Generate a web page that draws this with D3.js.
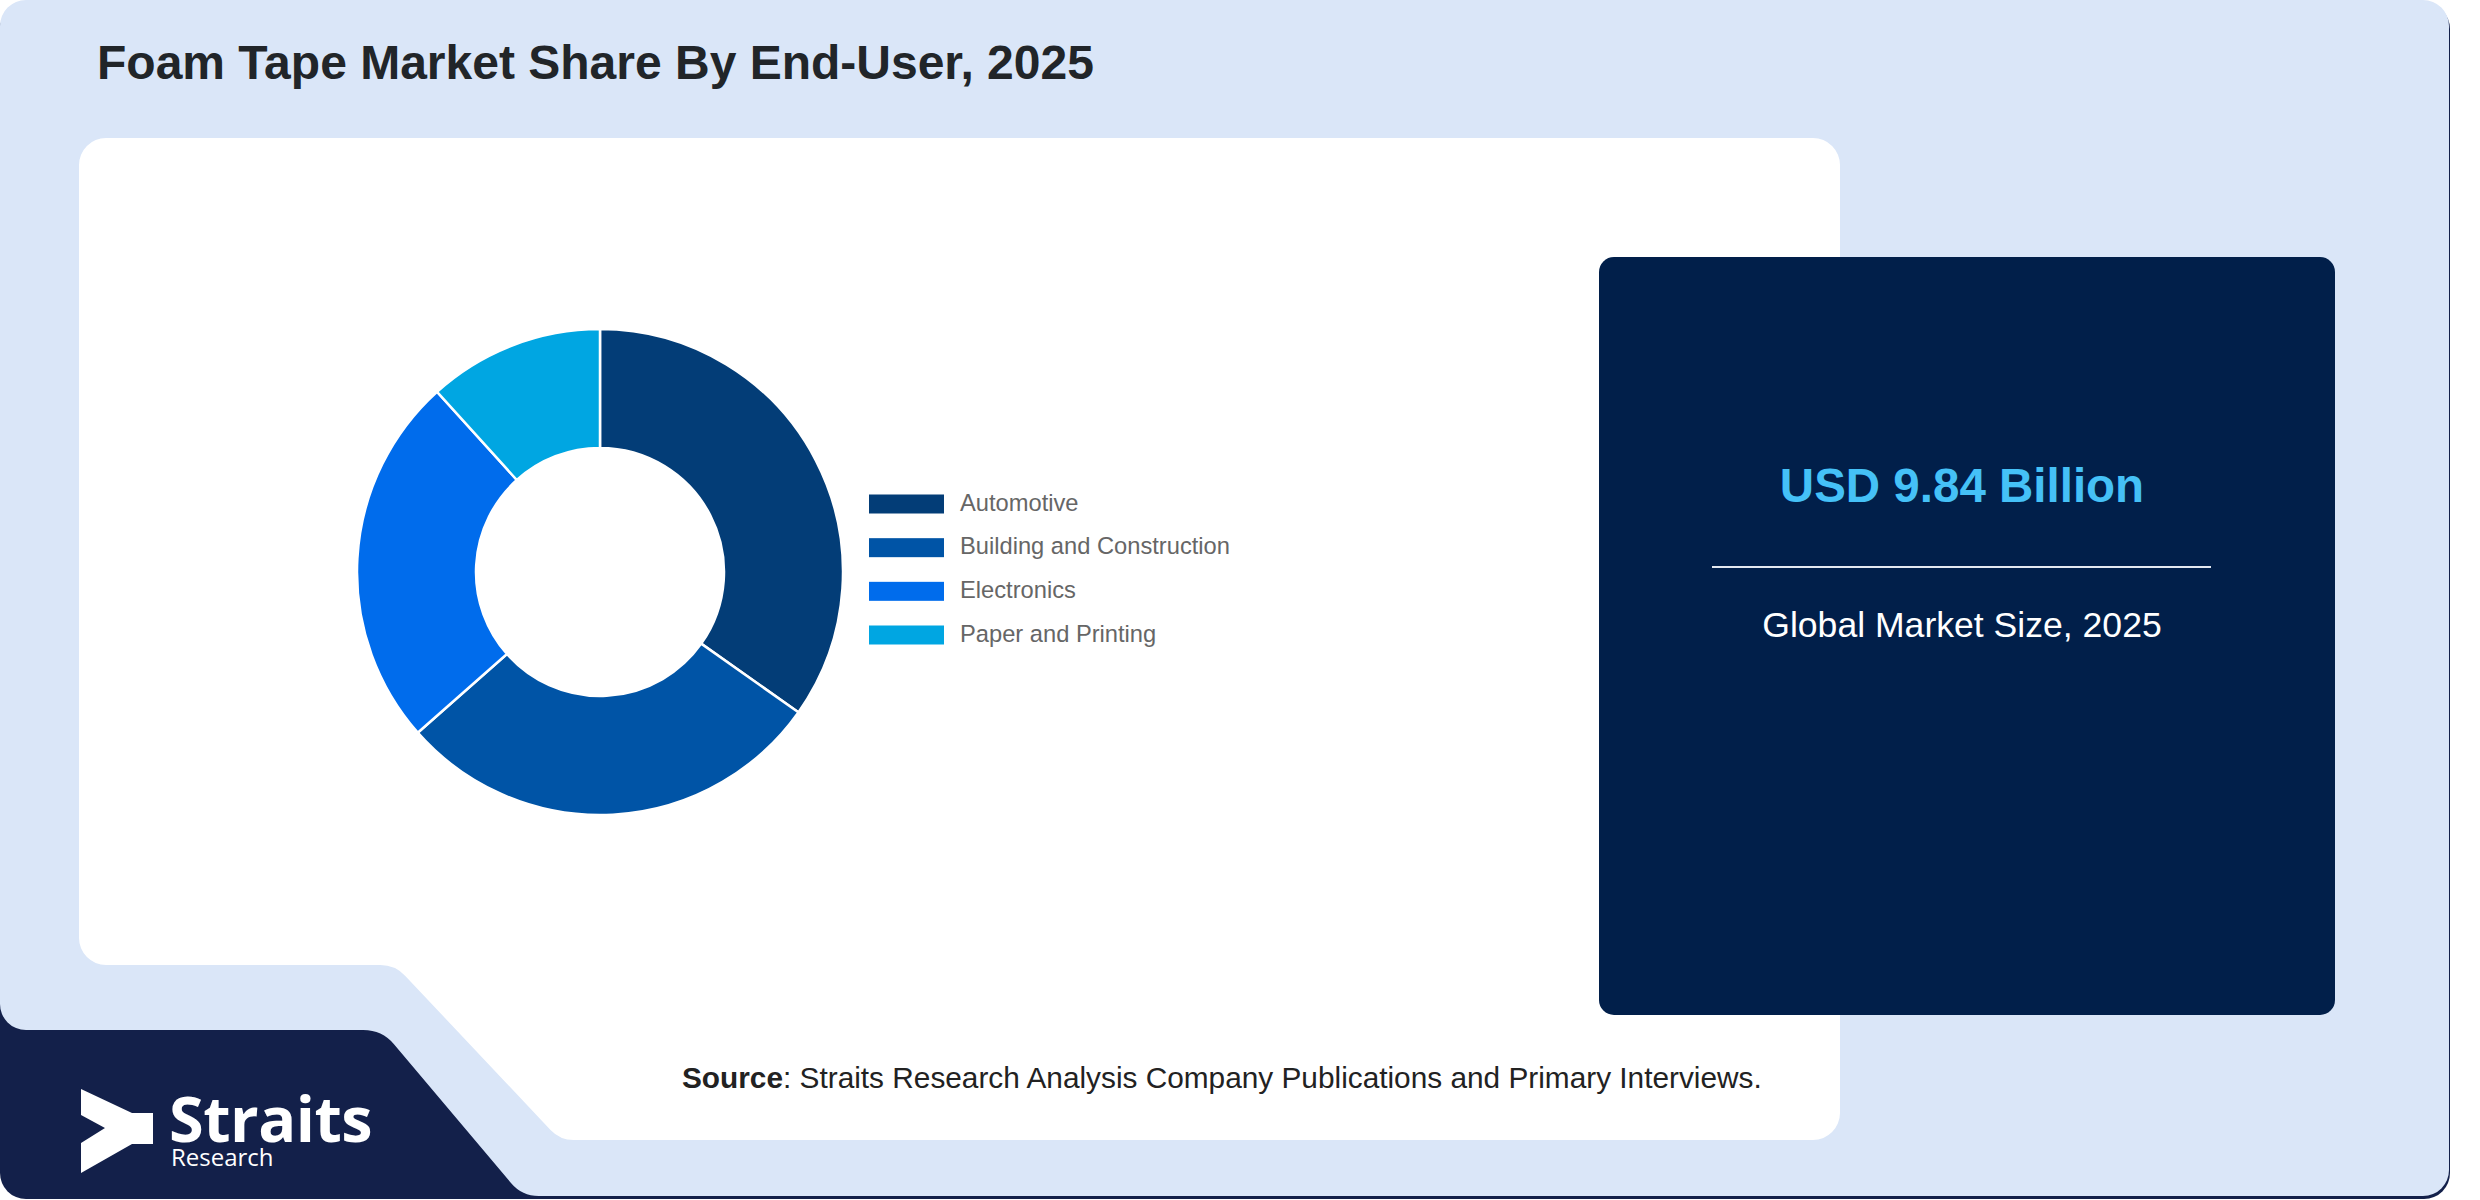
<!DOCTYPE html>
<html>
<head>
<meta charset="utf-8">
<script src="https://cdn.jsdelivr.net/npm/d3@7/dist/d3.min.js"></script>
<style>
  body { margin: 0; background: #ffffff; }
  svg { display: block; }
</style>
</head>
<body>
<div id="chart"></div>
<script>
// data
const title = "Foam Tape Market Share By End-User, 2025";
const categories = ["Automotive", "Building and Construction", "Electronics", "Paper and Printing"];
const shares = [34.8, 28.7, 24.8, 11.7];
const marketValue = "USD 9.84 Billion";
const marketLabel = "Global Market Size, 2025";

const sliceColors = ["#033d77", "#0054a6", "#006cec", "#00a6e2"];

const W = 2480, H = 1200;
const svg = d3.select("#chart").append("svg")
    .attr("width", W)
    .attr("height", H);

// polygon with rounded corners (arcTo at every vertex)
function roundedPoly(pts, r) {
    const p = d3.path();
    const n = pts.length;
    const a = pts[n - 1], b = pts[0];
    p.moveTo((a[0] + b[0]) / 2, (a[1] + b[1]) / 2);
    for (let i = 0; i < n; i++) {
        const c = pts[i], nx = pts[(i + 1) % n];
        const rr = Array.isArray(r) ? r[i] : r;
        p.arcTo(c[0], c[1], (c[0] + nx[0]) / 2, (c[1] + nx[1]) / 2, rr);
    }
    p.closePath();
    return p.toString();
}

// base (navy, peeks out at the bottom edge)
svg.append("rect")
    .attr("x", 0).attr("y", 3)
    .attr("width", 2450).attr("height", 1196)
    .attr("rx", 26)
    .attr("fill", "#13204a");

// light blue card with the notch at bottom left
svg.append("path")
    .attr("d", roundedPoly([[0, 0], [2449, 0], [2449, 1196], [522, 1196], [382, 1030], [0, 1030]],
        [26, 26, 26, 36, 40, 26]))
    .attr("fill", "#dae6f8");

// white chart panel
svg.append("path")
    .attr("d", roundedPoly([[79, 138], [1840, 138], [1840, 1140], [560, 1140], [395, 965], [79, 965]],
        [27, 27, 27, 32, 34, 27]))
    .attr("fill", "#ffffff");

// title
svg.append("text")
    .attr("x", 97).attr("y", 79)
    .attr("font-family", "'Liberation Sans', Arial, sans-serif")
    .attr("font-weight", "bold")
    .attr("font-size", 48)
    .attr("fill", "#212529")
    .text(title);

// donut
const cx = 600, cy = 572;
const pie = d3.pie().sort(null).value(d => d);
const arc = d3.arc().innerRadius(124).outerRadius(243);
const color = d3.scaleOrdinal().domain(categories).range(sliceColors);

const g = svg.append("g").attr("transform", `translate(${cx},${cy})`);
g.selectAll("path")
    .data(pie(shares))
    .enter()
    .append("path")
    .attr("d", arc)
    .attr("fill", (d, i) => color(categories[i]))
    .attr("stroke", "#ffffff")
    .attr("stroke-width", 2.5);

// legend
const ly = d3.scalePoint().domain(categories).range([504, 635]);
const legend = svg.append("g");
legend.selectAll("rect")
    .data(categories)
    .enter()
    .append("rect")
    .attr("x", 869)
    .attr("y", d => ly(d) - 9.5)
    .attr("width", 75)
    .attr("height", 19)
    .attr("fill", d => color(d));
legend.selectAll("text")
    .data(categories)
    .enter()
    .append("text")
    .attr("x", 960)
    .attr("y", d => ly(d) + 6.5)
    .attr("font-family", "'Liberation Sans', Arial, sans-serif")
    .attr("font-size", 23.7)
    .attr("fill", "#666666")
    .text(d => d);

// market size box
const boxCx = 1962;
svg.append("rect")
    .attr("x", 1599).attr("y", 257)
    .attr("width", 736).attr("height", 758)
    .attr("rx", 15)
    .attr("fill", "#011f4a");
svg.append("text")
    .attr("x", boxCx).attr("y", 502)
    .attr("text-anchor", "middle")
    .attr("font-family", "'Liberation Sans', Arial, sans-serif")
    .attr("font-weight", "bold")
    .attr("font-size", 47.5)
    .attr("fill", "#45c1f7")
    .text(marketValue);
svg.append("line")
    .attr("x1", 1712).attr("x2", 2211)
    .attr("y1", 567).attr("y2", 567)
    .attr("stroke", "#e3e8f0")
    .attr("stroke-width", 2);
svg.append("text")
    .attr("x", boxCx).attr("y", 637)
    .attr("text-anchor", "middle")
    .attr("font-family", "'Liberation Sans', Arial, sans-serif")
    .attr("font-size", 35.6)
    .attr("fill", "#ffffff")
    .text(marketLabel);

// source line
const src = svg.append("text")
    .attr("x", 682).attr("y", 1088)
    .attr("font-family", "'Liberation Sans', Arial, sans-serif")
    .attr("font-size", 29.8)
    .attr("fill", "#222222");
src.append("tspan").attr("font-weight", "bold").text("Source");
src.append("tspan").text(": Straits Research Analysis Company Publications and Primary Interviews.");

// logo
svg.append("path")
    .attr("d", d3.line()([[81, 1089], [132, 1113], [153, 1113], [153, 1144], [132, 1144],
        [81, 1173], [81, 1143], [105, 1128], [81, 1115]]) + "Z")
    .attr("fill", "#ffffff");
const logo = svg.append("text")
    .attr("font-family", "'Open Sans', sans-serif")
    .attr("fill", "#ffffff");
logo.append("tspan")
    .attr("x", 169).attr("y", 1142)
    .attr("font-weight", "bold")
    .attr("font-size", 63)
    .attr("letter-spacing", -0.5)
    .text("Straits");
logo.append("tspan")
    .attr("x", 171).attr("y", 1166)
    .attr("font-size", 24)
    .text("Research");
</script>
</body>
</html>
